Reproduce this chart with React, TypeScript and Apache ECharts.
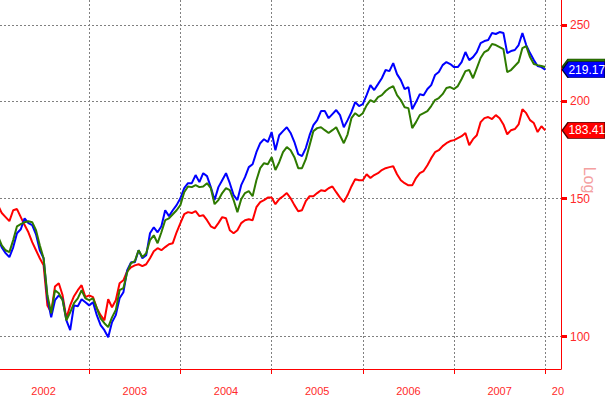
import React, { useEffect, useRef } from 'react';
import * as echarts from 'echarts';

const START_YEAR = 2002;
const POINTS_PER_YEAR = 24;

const blue = [
  133.5, 130.0, 127.8, 126.3, 130.0, 135.5, 137.1, 141.6, 139.6, 138.8,
  135.1, 128.9, 125.9, 111.9, 105.8, 111.3, 112.9, 111.6, 104.9, 101.9,
  109.6, 109.3, 111.6, 110.6, 109.6, 110.6, 106.5, 103.4, 101.9, 99.8,
  104.3, 106.5, 111.9, 113.9, 121.6, 124.4, 124.4, 128.9, 125.9, 127.0,
  135.5, 137.9, 135.9, 138.3, 145.0, 142.5, 145.0, 147.2, 150.2, 154.7,
  157.0, 157.0, 160.8, 157.5, 161.7, 160.3, 155.2, 149.4, 155.2, 158.4,
  161.7, 157.0, 151.6, 149.4, 156.1, 159.8, 164.6, 166.0, 172.0, 176.6,
  178.7, 177.2, 182.5, 173.0, 180.8, 183.0, 185.1, 182.0, 177.2, 171.0,
  170.0, 174.1, 180.8, 186.2, 189.0, 194.1, 194.1, 190.1, 192.4, 194.7,
  191.8, 185.1, 189.0, 193.5, 199.3, 197.0, 198.1, 203.4, 209.5, 206.5,
  210.1, 213.8, 219.0, 218.3, 223.5, 216.4, 212.6, 207.1, 208.3, 195.2,
  199.3, 204.0, 203.4, 207.1, 209.5, 215.8, 217.7, 222.2, 224.2, 222.9,
  220.9, 220.9, 224.2, 230.9, 225.5, 227.5, 230.9, 237.1, 238.5, 239.2,
  244.2, 243.5, 244.9, 244.2, 230.2, 231.6, 232.3, 235.7, 244.2, 235.7,
  230.2, 225.5, 221.6, 220.9, 219.17,
];

const green = [
  134.3, 130.8, 128.9, 128.2, 132.8, 138.3, 139.2, 140.0, 140.4, 140.0,
  136.7, 130.8, 125.9, 112.9, 107.1, 114.6, 113.6, 111.3, 104.9, 107.4,
  110.3, 111.9, 114.6, 111.9, 111.3, 111.9, 108.7, 105.5, 104.0, 102.8,
  105.8, 108.1, 114.6, 115.3, 120.8, 124.1, 124.8, 128.9, 126.3, 127.8,
  132.8, 134.7, 131.6, 135.9, 140.8, 141.6, 143.3, 145.0, 147.2, 152.9,
  155.5, 155.2, 156.1, 155.2, 155.5, 157.0, 154.7, 147.6, 149.4, 152.5,
  154.7, 153.8, 149.4, 144.2, 149.8, 152.5, 153.4, 151.1, 158.4, 164.1,
  166.5, 166.0, 169.5, 163.2, 167.0, 172.0, 174.6, 173.0, 169.5, 164.1,
  164.1, 168.5, 175.6, 183.0, 184.6, 185.1, 183.5, 182.0, 183.5, 185.1,
  180.8, 176.6, 181.3, 190.1, 192.9, 191.2, 192.9, 197.4, 200.5, 199.3,
  202.2, 203.4, 205.9, 207.7, 208.9, 203.4, 200.5, 196.3, 195.8, 184.6,
  187.9, 191.8, 192.9, 194.1, 197.0, 200.5, 201.7, 204.0, 207.7, 208.3,
  207.1, 208.9, 213.3, 218.3, 219.0, 213.8, 220.3, 226.9, 230.9, 232.3,
  236.4, 235.7, 234.3, 232.9, 217.7, 219.0, 221.6, 224.2, 233.6, 235.0,
  227.5, 222.9, 222.2, 221.6, 221.0,
];

const red = [
  147.2, 143.8, 142.1, 140.4, 145.0, 145.5, 142.1, 138.8, 135.9, 132.0,
  128.9, 125.9, 123.3, 109.6, 107.4, 115.9, 117.0, 112.9, 105.5, 109.6,
  112.6, 114.6, 116.3, 112.3, 112.9, 112.3, 108.7, 106.5, 104.9, 111.6,
  109.0, 111.3, 117.0, 118.0, 121.2, 122.6, 123.3, 123.7, 123.0, 123.7,
  125.9, 128.5, 129.7, 128.9, 130.1, 131.2, 131.6, 135.9, 139.6, 143.3,
  144.2, 143.8, 144.6, 142.5, 142.9, 140.8, 138.3, 137.5, 139.6, 142.1,
  141.6, 136.7, 135.5, 136.7, 139.6, 140.8, 141.2, 140.8, 146.3, 148.5,
  149.4, 150.5, 150.5, 147.6, 149.8, 151.1, 152.5, 150.2, 147.2, 144.6,
  145.0, 148.9, 151.1, 151.1, 152.5, 153.8, 153.4, 154.7, 155.5, 152.9,
  150.5, 148.5, 151.6, 155.5, 158.9, 158.4, 158.4, 161.2, 159.4, 160.8,
  161.7, 163.2, 164.1, 164.6, 165.0, 161.2, 158.4, 157.0, 156.0, 156.0,
  159.4, 161.7, 162.7, 165.5, 169.0, 172.0, 173.0, 175.1, 176.6, 177.7,
  178.2, 179.3, 180.3, 182.0, 175.6, 178.7, 180.8, 187.9, 190.1, 190.7,
  189.6, 191.8, 190.1, 186.6, 181.3, 183.5, 184.1, 186.6, 195.2, 192.9,
  189.0, 187.4, 182.5, 185.6, 183.41,
];

const yTicks = [100, 150, 200, 250];
const yearBoundaries = [2003, 2004, 2005, 2006, 2007, 2008];
const yearLabelPositions = [2002.5, 2003.5, 2004.5, 2005.5, 2006.5, 2007.5, 2008.14];

const toPairs = (arr: number[]) => arr.map((v, i) => [START_YEAR + i / POINTS_PER_YEAR, v]);

export default function App() {
  const ref = useRef<HTMLDivElement>(null);
  useEffect(() => {
    document.body.style.margin = '0';
    const chart = echarts.init(ref.current!, null, { renderer: 'svg' });
    const font = '"Liberation Sans", Arial, sans-serif';
    const lineSeries = (name: string, data: number[], color: string) => ({
      type: 'line',
      name,
      data: toPairs(data),
      showSymbol: false,
      symbol: 'none',
      silent: true,
      lineStyle: { color, width: 2 },
      itemStyle: { color },
    });
    const tag = (name: string, data: number[], fill: string, border: string, showText: boolean) => ({
      type: 'scatter',
      name,
      z: 5,
      silent: true,
      data: [[START_YEAR + (data.length - 1) / POINTS_PER_YEAR, data[data.length - 1]]],
      symbol: 'path://M0,8L6,0L44,0L44,16L6,16Z',
      symbolSize: [43, 16],
      symbolOffset: [38.5, 0],
      itemStyle: { color: fill, borderColor: border, borderWidth: 1, opacity: 1 },
      label: {
        show: showText,
        position: 'inside',
        formatter: (p: any) => p.value[1].toFixed(2),
        color: '#ffffff',
        fontSize: 12,
        fontFamily: font,
        offset: [3, 0],
      },
    });
    chart.setOption({
      animation: false,
      backgroundColor: '#ffffff',
      grid: { left: 0, right: 44, top: 0, bottom: 30, containLabel: false, outerBoundsMode: 'none' },
      xAxis: {
        type: 'value',
        min: 2002.022,
        max: 2008.173,
        axisLine: { show: true, onZero: false, lineStyle: { color: '#ff0000', width: 1 } },
        axisTick: { show: true, customValues: yearBoundaries, length: 5, lineStyle: { color: '#ff0000' } },
        axisLabel: {
          customValues: yearLabelPositions,
          formatter: (v: number) => (v > 2008 ? '20' : String(Math.floor(v))),
          color: '#ff2a2a',
          fontSize: 11,
          fontFamily: font,
          margin: 16,
        },
        splitLine: { show: true, lineStyle: { color: '#808080', type: [2, 2], width: 1 } },
      },
      yAxis: {
        type: 'log',
        position: 'right',
        min: 90.9,
        max: 269.1,
        axisLine: { show: true, onZero: false, lineStyle: { color: '#ff0000', width: 1 } },
        axisTick: { show: true, customValues: yTicks, length: 6, lineStyle: { color: '#ff0000', width: 3 } },
        axisLabel: { customValues: yTicks, color: '#ff2a2a', fontSize: 12, fontFamily: font, margin: 9 },
        splitLine: { show: true, lineStyle: { color: '#808080', type: [2, 2], width: 1 } },
        name: 'Log',
        nameLocation: 'middle',
        nameRotate: -90,
        nameGap: 20,
        nameMoveOverlap: false,
        nameTextStyle: { color: '#f4a0a0', fontSize: 16, fontFamily: font, padding: [0, 9, 0, 0] },
      },
      series: [
        lineSeries('red', red, '#ff0000'),
        lineSeries('blue', blue, '#0000ff'),
        lineSeries('green', green, '#2e7a00'),
        tag('greenTag', green, '#2e7a00', '#1a4a00', false),
        tag('blueTag', blue, '#0000ff', '#000033', true),
        tag('redTag', red, '#ff0000', '#550000', true),
      ],
    });
    return () => chart.dispose();
  }, []);
  return <div ref={ref} style={{ width: 605, height: 399 }} />;
}
